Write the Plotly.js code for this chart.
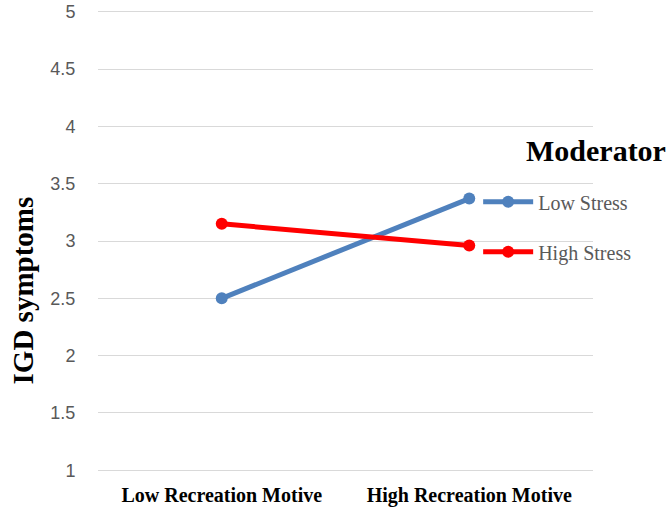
<!DOCTYPE html>
<html>
<head>
<meta charset="utf-8">
<script src="https://cdn.plot.ly/plotly-3.0.1.min.js"></script>
<style>
  html, body { margin: 0; padding: 0; background: #fff; }
  #chart { width: 670px; height: 510px; }
</style>
</head>
<body>
<div id="chart"></div>
<script>
// Interaction plot: IGD symptoms by recreation motive, moderated by stress
const categories = ["Low Recreation Motive", "High Recreation Motive"];
const lowStress = [2.5, 3.37];
const highStress = [3.15, 2.96];
const yTicks = [1, 1.5, 2, 2.5, 3, 3.5, 4, 4.5, 5];
const yTickLabels = ["1", "1.5", "2", "2.5", "3", "3.5", "4", "4.5", "5"];

const serif = "Liberation Serif, Times New Roman, serif";

const traces = [
  {
    x: categories, y: lowStress, name: "Low Stress",
    type: "scatter", mode: "lines+markers",
    line: { color: "#4f81bd", width: 5 },
    marker: { color: "#4f81bd", size: 12 },
    legendgroup: "low"
  },
  {
    x: categories, y: highStress, name: "High Stress",
    type: "scatter", mode: "lines+markers",
    line: { color: "#ff0000", width: 5 },
    marker: { color: "#ff0000", size: 12 },
    legendgroup: "high"
  }
];

// a little headroom past 1 and 5 so the gridlines at the ends are kept
const layout = {
  width: 670, height: 510,
  margin: { l: 98, r: 77, t: 10, b: 38 },
  paper_bgcolor: "#fff", plot_bgcolor: "#fff",
  showlegend: true,
  legend: {
    x: 0.768, y: 0.627, xanchor: "left", yanchor: "top",
    font: { family: serif, size: 20, color: "#595959" },
    itemwidth: 50,
    traceorder: "grouped", tracegroupgap: 21,
    bgcolor: "rgba(0,0,0,0)"
  },
  xaxis: {
    type: "category", range: [-0.5, 1.5],
    showgrid: false, zeroline: false, showline: false,
    ticks: "outside", ticklen: 5, tickcolor: "rgba(0,0,0,0)",
    tickfont: { family: serif, size: 20, color: "#000", weight: "bold" },
    fixedrange: true
  },
  yaxis: {
    range: [0.985, 5.015], tickvals: yTicks, ticktext: yTickLabels,
    showgrid: true, gridcolor: "#d9d9d9", gridwidth: 1,
    zeroline: false, showline: false,
    ticks: "outside", ticklen: 18, tickcolor: "rgba(0,0,0,0)",
    tickfont: { family: "Liberation Sans, Arial, sans-serif", size: 18, color: "#595959" },
    fixedrange: true
  },
  annotations: [
    {
      text: "<b>IGD symptoms</b>", xref: "paper", yref: "paper",
      x: -0.1515, y: 0.393, xanchor: "center", yanchor: "middle",
      textangle: -90, showarrow: false,
      font: { family: serif, size: 29, color: "#000" }
    },
    {
      text: "<b>Moderator</b>", xref: "paper", yref: "paper",
      x: 1.1515, y: 0.695, xanchor: "right", yanchor: "middle",
      showarrow: false,
      font: { family: serif, size: 30, color: "#000" }
    }
  ]
};

Plotly.newPlot("chart", traces, layout, { displayModeBar: false, staticPlot: true });
</script>
</body>
</html>
